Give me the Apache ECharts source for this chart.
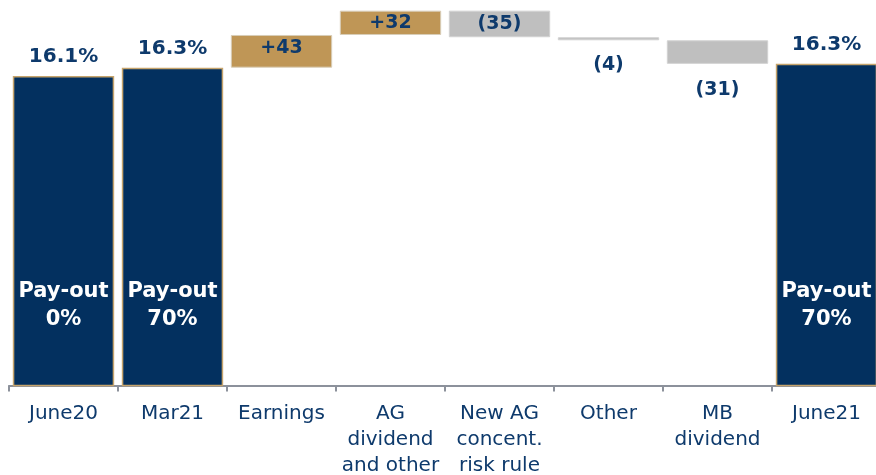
<!DOCTYPE html>
<html>
<head>
<meta charset="utf-8">
<script src="https://cdn.jsdelivr.net/npm/echarts@6/dist/echarts.min.js"></script>
<style>
  html, body { margin: 0; padding: 0; background: #ffffff; }
  #chart { width: 876px; height: 475px; }
</style>
</head>
<body>
<div id="chart"></div>
<script>
// Categories along the bottom axis
const categories = ['June20', 'Mar21', 'Earnings', 'AG\ndividend\nand other', 'New AG\nconcent.\nrisk rule', 'Other', 'MB\ndividend', 'June21'];

// CET1 ratio (basis points) at each reporting date; null for movement steps
const totals = [1614, 1625, null, null, null, null, null, 1630];
const totalLabels = ['16.1%', '16.3%', null, null, null, null, null, '16.3%'];
const payoutLabels = ['Pay-out\n0%', 'Pay-out\n70%', null, null, null, null, null, 'Pay-out\n70%'];

// Movements (basis points) from Mar21 to June21
const changes = [null, null, 43, 32, -35, -4, -31, null];

// Styling
const NAVY = '#03305F';
const NAVY_TEXT = '#0E3A6C';
const GOLD = '#BF9656';
const GREY = '#BFBFBF';
const FONT = 'DejaVu Sans';
// step labels drawn under their bar (value = gap in px)
const labelsBelow = { 'Other': 15, 'MB\ndividend': 17 };
// small vertical nudges for labels drawn inside their bar
const insideNudge = { 'Earnings': -3 };

// Build the waterfall: an invisible base plus the visible step
const baseData = [];
const barData = [];
let running = totals[1];
categories.forEach((cat, i) => {
  if (totals[i] != null) {
    baseData.push('-');
    barData.push({
      value: totals[i],
      itemStyle: { color: NAVY, borderColor: '#C6A46C', borderWidth: 1.5 },
      label: {
        show: true, position: 'top', distance: 9,
        formatter: totalLabels[i],
        color: NAVY_TEXT, fontSize: 20, fontWeight: 'bold', fontFamily: FONT
      }
    });
  } else {
    const chg = changes[i];
    const next = running + chg;
    baseData.push(Math.min(running, next));
    const below = cat in labelsBelow;
    barData.push({
      value: Math.abs(chg),
      itemStyle: chg > 0
        ? { color: GOLD, borderColor: '#D8CDB8', borderWidth: 1 }
        : { color: GREY, borderColor: '#D2D2D2', borderWidth: 1 },
      label: {
        show: true,
        position: below ? 'bottom' : 'inside',
        distance: below ? labelsBelow[cat] : 5,
        offset: below ? [0, 0] : [0, insideNudge[cat] || 0],
        formatter: chg > 0 ? '+' + chg : '(' + (-chg) + ')',
        color: NAVY_TEXT, fontSize: 19, fontWeight: 'bold', fontFamily: FONT
      }
    });
    running = next;
  }
});

const chart = echarts.init(document.getElementById('chart'), null, { renderer: 'canvas' });
chart.setOption({
  animation: false,
  backgroundColor: '#ffffff',
  grid: { left: 9, width: 872, top: 0, bottom: 89.5, containLabel: false, outerBoundsMode: 'none' },
  xAxis: {
    type: 'category',
    data: categories,
    axisLine: { lineStyle: { color: '#8C919B', width: 2 } },
    axisTick: { show: true, interval: 0, length: 6, lineStyle: { color: '#8C919B', width: 2 } },
    axisLabel: {
      interval: 0, margin: 15, color: NAVY_TEXT, fontSize: 20, lineHeight: 26,
      fontFamily: FONT, align: 'center'
    }
  },
  yAxis: {
    type: 'value', min: 1207, max: 1714, show: false,
    splitLine: { show: false }
  },
  series: [
    {
      name: 'base', type: 'bar', stack: 'w', data: baseData,
      itemStyle: { color: 'transparent' },
      barCategoryGap: '7%', barGap: '-100%', silent: true
    },
    {
      name: 'step', type: 'bar', stack: 'w', data: barData,
      barCategoryGap: '7%', barGap: '-100%'
    },
    {
      name: 'payout', type: 'bar',
      data: totals.map(v => v == null ? '-' : v),
      itemStyle: { color: 'transparent' },
      barCategoryGap: '7%', barGap: '-100%', z: 5, silent: true,
      label: {
        show: true, position: 'insideBottom', distance: 52,
        formatter: p => payoutLabels[p.dataIndex] || '',
        color: '#ffffff', fontSize: 21, fontWeight: 'bold', lineHeight: 28,
        fontFamily: FONT, align: 'center'
      }
    }
  ]
});
</script>
</body>
</html>
